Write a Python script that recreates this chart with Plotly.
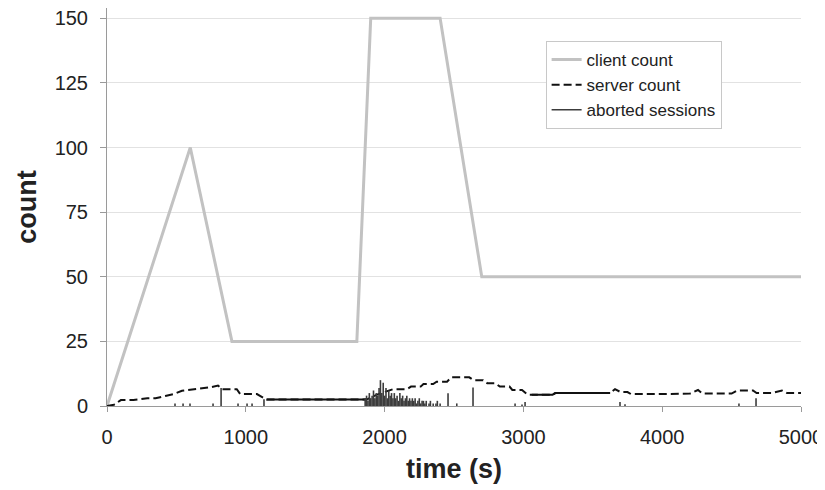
import plotly.graph_objects as go

# ---------------- data ----------------
client_t = [0, 600, 900, 1800, 1900, 2400, 2700, 5000]
client_v = [0, 100, 25, 25, 150, 150, 50, 50]

server_t = [0, 50, 100, 190, 290, 350, 420, 480, 540, 640, 740, 800, 830, 935, 960, 1080,
            1110, 1150, 1870, 1950, 2060, 2160, 2190, 2260, 2280, 2350, 2375, 2450, 2480, 2610,
            2640, 2710, 2740, 2800, 2830, 2900, 2920, 2990, 3030, 3060, 3210, 3230, 3625, 3660,
            3700, 3750, 3775, 3955, 4200, 4258, 4290, 4500, 4539, 4654, 4680, 4790, 4863, 4900, 5000]
server_v = [0, 0.5, 2.3, 2.3, 3.0, 3.0, 3.9, 4.6, 5.9, 6.5, 7.2, 7.9, 6.5, 6.5, 4.6, 4.6,
            3.6, 2.5, 2.5, 4.5, 6.5, 6.5, 7.5, 7.5, 8.5, 8.5, 9.4, 9.4, 11.1, 11.1,
            10.0, 10.0, 8.8, 8.8, 7.5, 7.5, 6.2, 6.2, 4.4, 4.4, 4.4, 5.0, 5.0, 6.5,
            5.4, 5.4, 4.6, 4.6, 4.8, 6.2, 4.8, 4.8, 6.0, 6.0, 5.0, 5.0, 6.0, 5.0, 5.0]
server_solid_spans = [(1150, 1870), (3060, 3625)]

aborted_t = [490, 548, 598, 764, 822, 944, 1009, 1045, 1131,
             1860, 1870, 1880, 1890, 1900, 1910, 1920, 1930, 1940, 1950, 1960, 1970, 1980, 1990,
             2000, 2010, 2020, 2030, 2040, 2050, 2060, 2070, 2080, 2090, 2100, 2110, 2120, 2130,
             2140, 2150, 2160, 2170, 2180, 2190, 2200, 2210, 2220, 2230, 2240, 2250, 2260, 2270,
             2280, 2290, 2300, 2320, 2330, 2350, 2370, 2380, 2400,
             2457, 2520, 2637, 2940, 2990, 3012, 3696, 3732, 4553, 4676]
aborted_v = [1, 1, 1, 1, 7, 1, 1, 1, 2.6,
             3, 4, 2, 5, 3, 4, 6, 3, 5, 4, 7, 10, 5, 9,
             4, 7, 3, 6, 4, 5, 3, 5, 3, 4, 2, 5, 3, 4,
             2, 3, 4, 2, 3, 2, 3, 2, 3, 1, 2, 3, 1, 2,
             2, 1, 2, 1, 2, 1, 1, 2, 1,
             4.9, 1, 7.2, 1, 0.6, 1.5, 1.5, 0.7, 1, 3]

x_ticks = [0, 1000, 2000, 3000, 4000, 5000]
y_ticks = [0, 25, 50, 75, 100, 125, 150]

# ---------------- build ----------------
FONT = "Liberation Sans, Arial, sans-serif"
fig = go.Figure()

fig.add_trace(go.Scatter(x=client_t, y=client_v, mode="lines", name="client count",
                         line=dict(color="#c2c2c2", width=3)))
fig.add_trace(go.Scatter(x=server_t, y=server_v, mode="lines", name="server count",
                         line=dict(color="#111111", width=2, dash="8px,4px")))
# solid-looking flat parts of the server series
for a, b in server_solid_spans:
    st = [t for t in server_t if a <= t <= b]
    sv = [v for t, v in zip(server_t, server_v) if a <= t <= b]
    fig.add_trace(go.Scatter(x=st, y=sv, mode="lines", showlegend=False, hoverinfo="skip",
                             line=dict(color="#111111", width=2)))

ax, ay = [], []
for t, v in zip(aborted_t, aborted_v):
    ax += [t, t, None]
    ay += [0, v, None]
fig.add_trace(go.Scatter(x=ax, y=ay, mode="lines", name="aborted sessions",
                         line=dict(color="#3c3c3c", width=1.6)))

# the page body adds an 8px margin, so the figure is 8px smaller than the window
fig.update_layout(
    width=817, height=482,
    margin=dict(l=99, r=24, t=0, b=84),
    paper_bgcolor="white", plot_bgcolor="white",
    font=dict(family=FONT, color="#222222"),
    showlegend=True,
    legend=dict(x=0.632, y=0.917, xanchor="left", yanchor="top",
                bgcolor="white", bordercolor="#c8c8c8", borderwidth=1,
                font=dict(size=17, family=FONT, color="#222222"),
                traceorder="normal", tracegroupgap=0),
)
fig.update_xaxes(range=[0, 5000], tickvals=x_ticks, ticktext=[str(v) for v in x_ticks],
                 automargin=False, ticklabeloverflow="allow",
                 showline=True, linecolor="#9a9a9a", linewidth=1,
                 ticks="outside", ticklen=5, tickcolor="#9a9a9a", ticklabelstandoff=8,
                 showgrid=False, zeroline=False,
                 tickfont=dict(size=20, family=FONT, color="#222222"),
                 title=dict(text="<b>time (s)</b>", font=dict(size=27, family=FONT, color="#222222"),
                            standoff=12))
fig.update_yaxes(range=[0, 154], tickvals=y_ticks, ticktext=[str(v) for v in y_ticks],
                 automargin=False, ticklabeloverflow="allow",
                 showline=True, linecolor="#9a9a9a", linewidth=1,
                 ticks="outside", ticklen=6, tickcolor="#9a9a9a", ticklabelstandoff=8,
                 showgrid=True, gridcolor="#e2e2e2", gridwidth=1, zeroline=False,
                 tickfont=dict(size=20, family=FONT, color="#222222"),
                 title=dict(text="<b>count</b>", font=dict(size=27, family=FONT, color="#222222"),
                            standoff=10))

fig.write_html("out.html")
